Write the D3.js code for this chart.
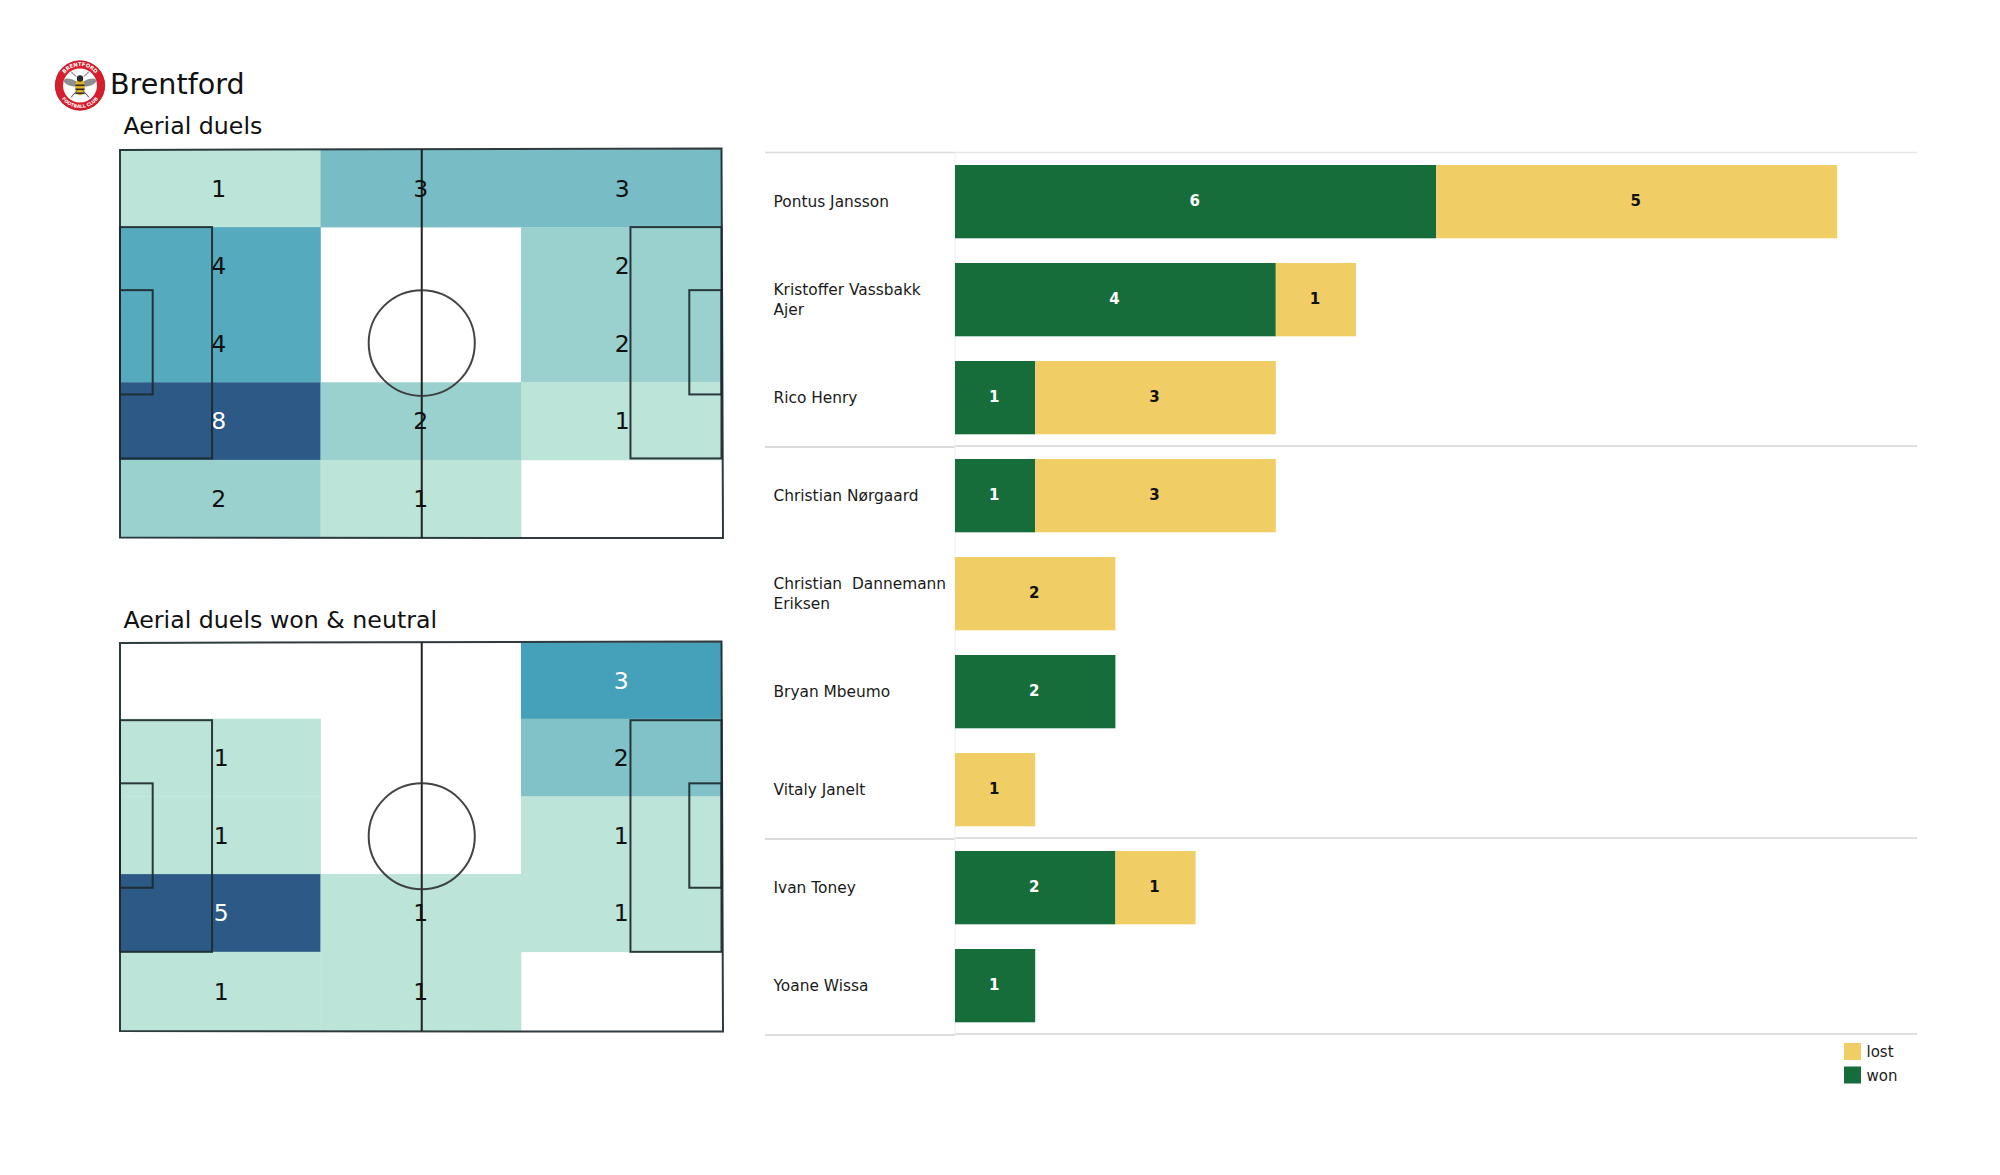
<!DOCTYPE html>
<html><head><meta charset="utf-8">
<script src="https://cdnjs.cloudflare.com/ajax/libs/d3/7.8.5/d3.min.js"></script>
<style>html,body{margin:0;padding:0;background:#fff}svg{display:block}text{font-family:"DejaVu Sans",sans-serif}</style>
</head><body><svg id="c" width="2000" height="1175"></svg>
<script>
const teamName = "Brentford";
const panelTitles = ["Aerial duels", "Aerial duels won & neutral"];
// rows top→bottom, columns left→right; null = empty cell
const aerialAll = [[1,3,3],[4,null,2],[4,null,2],[8,2,1],[2,1,null]];
const aerialWon = [[null,null,3],[1,null,2],[1,null,1],[5,1,1],[1,1,null]];
const players = [["Pontus Jansson"],["Kristoffer Vassbakk","Ajer"],["Rico Henry"],["Christian Nørgaard"],["Christian  Dannemann","Eriksen"],["Bryan Mbeumo"],["Vitaly Janelt"],["Ivan Toney"],["Yoane Wissa"]];
const won  = [6,4,1,1,0,2,0,2,1];
const lost = [5,1,3,3,2,0,1,1,0];
const groupEnds = [0,3,7,9];
const legendItems = ["lost","won"];

const GREEN="#166d39", YELLOW="#f1ce65", LINE="#1d2a2e";
const svg=d3.select("#c");

// ---------- header ----------
const logo=svg.append("g").attr("transform","translate(80,85.5)");
logo.append("circle").attr("r",25).attr("fill","#d81e2c");
logo.append("circle").attr("r",24.6).attr("fill","none").attr("stroke","#b5202c").attr("stroke-width",.8);
logo.append("path").attr("id","logoTop").attr("d","M-19.5,0A19.5,19.5 0 0 1 19.5,0").attr("fill","none");
logo.append("path").attr("id","logoBot").attr("d","M-22.5,0A22.5,22.5 0 0 0 22.5,0").attr("fill","none");
logo.append("text").attr("font-size",5.2).attr("font-weight","bold").attr("fill","#fff").attr("text-anchor","middle")
  .append("textPath").attr("href","#logoTop").attr("startOffset","50%").text("BRENTFORD");
logo.append("text").attr("font-size",4.6).attr("font-weight","bold").attr("fill","#fff").attr("text-anchor","middle")
  .append("textPath").attr("href","#logoBot").attr("startOffset","50%").text("FOOTBALL CLUB");
logo.append("circle").attr("r",17).attr("fill","#fff");
logo.append("ellipse").attr("cx",-9).attr("cy",-3).attr("rx",7.5).attr("ry",3.4).attr("transform","rotate(18 -9 -3)").attr("fill","#8b8f93");
logo.append("ellipse").attr("cx",9).attr("cy",-3).attr("rx",7.5).attr("ry",3.4).attr("transform","rotate(-18 9 -3)").attr("fill","#8b8f93");
logo.append("ellipse").attr("cx",0).attr("cy",1.5).attr("rx",4.8).attr("ry",8.5).attr("fill","#e6b422");
logo.append("circle").attr("cy",-7).attr("r",3.2).attr("fill","#2a2a2a");
[-1,3,7].forEach(y=>logo.append("rect").attr("x",-4.6).attr("y",y).attr("width",9.2).attr("height",1.6).attr("fill","#2a2a2a"));
[[-4,-9,-9,-14],[4,-9,9,-14],[-3,5,-9,12],[3,5,9,12]].forEach(d=>logo.append("line").attr("x1",d[0]).attr("y1",d[1]).attr("x2",d[2]).attr("y2",d[3]).attr("stroke","#333").attr("stroke-width",.9));
svg.append("text").attr("x",110).attr("y",93.5).attr("font-size",28.6).attr("fill","#111").text(teamName);

// ---------- pitches ----------
const heat=d3.scaleLinear().domain([0,.5,1]).range(["#bce4d8","#45a0b9","#2c5985"]).interpolate(d3.interpolateRgb);
function pitch(data,title,top,bottom,titleY,shift,textDx){
  const g=svg.append("g");
  g.append("text").attr("x",123.5).attr("y",titleY).attr("font-size",23.7).attr("fill","#111").text(title);
  const x=d3.scaleLinear().domain([0,120]).range([120,723.5]);
  const y=d3.scaleLinear().domain([0,80]).range([top,bottom]);
  const max=d3.max(data.flat());
  const col=d3.scaleLinear().domain([0,3]).range([120,721.5]);
  const row=d3.scaleLinear().domain([0,5]).range([top+shift,bottom+shift]);
  data.forEach((r,i)=>r.forEach((v,j)=>{
    if(v==null) return;
    const t=(v-1)/(max-1);
    const y0=i===0?top:row(i), y1=i===4?bottom:row(i+1);
    g.append("rect").attr("x",col(j)).attr("y",y0).attr("width",col(j+1)-col(j)+.3).attr("height",y1-y0+.3).attr("fill",heat(t));
    g.append("text").attr("x",(col(j)+col(j+1))/2+textDx[j]).attr("y",(y0+y1)/2-.2).attr("dy","0.36em").attr("text-anchor","middle")
      .attr("font-size",23.5).attr("fill",t>=.5?"#fff":"#111").text(v);
  }));
  const s=g.append("g").attr("fill","none").attr("stroke",LINE).attr("stroke-width",2).attr("stroke-opacity",.92);
  const rect=(a,b,c,d)=>s.append("rect").attr("x",x(a)).attr("y",y(b)).attr("width",x(c)-x(a)).attr("height",y(d)-y(b));
  s.append("path").attr("d",d3.line()([[120,top+.4],[721.5,top-1],[723,bottom+.6],[120,bottom]])+"Z");
  s.append("line").attr("x1",x(60)).attr("x2",x(60)).attr("y1",y(0)).attr("y2",y(80)).attr("stroke","#111");
  rect(0,16,18.3,63.7); rect(101.5,16,119.6,63.7); rect(0,29,6.5,50.5); rect(113.2,29,119.6,50.5);
  s.append("ellipse").attr("cx",x(60)).attr("cy",y(39.9)).attr("rx",x(10.55)-x(0)).attr("ry",y(10.9)-y(0)).attr("stroke","#333");
}
pitch(aerialAll,panelTitles[0],149.5,537.5,134,0,[-1.5,0,1]);
pitch(aerialWon,panelTitles[1],642.5,1031,627.5,-1.5,[1,0,0]);

// ---------- bars ----------
const bx=d3.scaleLinear().domain([0,1]).range([955,1035.2]);
const by=d3.scaleBand().domain(d3.range(players.length)).range([152.5,1034.5]).paddingInner(.255).paddingOuter(.1275);
const edge=d3.scaleLinear().domain([0,players.length]).range([152.5,1034.5]);
const bars=svg.append("g");
groupEnds.forEach((e,i)=>{
  const light=i===0;
  bars.append("line").attr("x1",765).attr("x2",955).attr("y1",edge(e)+(e?.5:0)).attr("y2",edge(e)+(e?.5:0)).attr("stroke",light?"#dcdcdc":"#cfcfcf").attr("stroke-width",1.4);
  bars.append("line").attr("x1",955).attr("x2",1917).attr("y1",edge(e)-(e?.5:0)).attr("y2",edge(e)-(e?.5:0)).attr("stroke",light?"#e6e6e6":"#d4d4d4").attr("stroke-width",1.4);
});
bars.append("line").attr("x1",955).attr("x2",955).attr("y1",152.5).attr("y2",1034.5).attr("stroke","#f0f0f0");
players.forEach((lines,i)=>{
  const c=by(i)+by.bandwidth()/2;
  const t=bars.append("text").attr("font-size",15.4).attr("fill","#1a1a1a").attr("style","white-space:pre");
  lines.forEach((l,k)=>t.append("tspan").attr("x",773.5).attr("y",c-.3+(k-(lines.length-1)/2)*19.6).attr("dy","0.36em").text(l));
  const seg=(a,b,fill,tc)=>{
    if(b===a) return;
    bars.append("rect").attr("x",bx(a)).attr("y",by(i)).attr("width",bx(b)-bx(a)).attr("height",by.bandwidth()+.3).attr("fill",fill);
    bars.append("text").attr("x",(bx(a)+bx(b))/2-1).attr("y",c-.6).attr("dy","0.36em").attr("text-anchor","middle")
      .attr("font-size",15).attr("font-weight","bold").attr("fill",tc).text(b-a);
  };
  seg(0,won[i],GREEN,"#fff");
  seg(won[i],won[i]+lost[i],YELLOW,"#111");
});

// ---------- legend ----------
const ly=d3.scalePoint().domain(legendItems).range([1043,1066.5]);
legendItems.forEach(n=>{
  svg.append("rect").attr("x",1844).attr("y",ly(n)).attr("width",17).attr("height",17).attr("fill",n==="won"?GREEN:YELLOW);
  svg.append("text").attr("x",1866.5).attr("y",ly(n)+9).attr("dy","0.36em").attr("font-size",15).attr("fill","#1a1a1a").text(n);
});
</script></body></html>
